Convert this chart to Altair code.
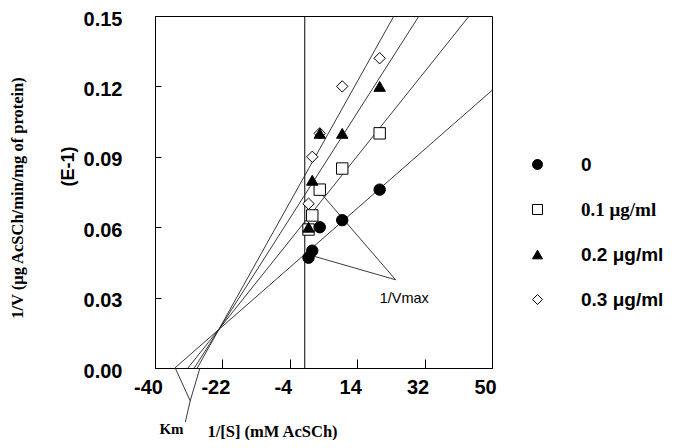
import altair as alt
import pandas as pd

# ---------------- data ----------------
x_vals = [1, 2, 4, 10, 20]                      # 1/[S]
series = ["0", "0.1 μg/ml", "0.2 μg/ml", "0.3 μg/ml"]
y_0 = [0.047, 0.050, 0.060, 0.063, 0.076]
y_01 = [0.059, 0.065, 0.076, 0.085, 0.100]
y_02 = [0.060, 0.080, 0.100, 0.100, 0.120]
y_03 = [0.070, 0.090, 0.100, 0.120, 0.132]

shapes = ["circle", "square", "triangle-up", "diamond"]
fills = ["black", "white", "black", "white"]
strokes = ["black", "black", "black", "black"]
draw_order = [3, 0, 2, 1]

# fitted Lineweaver-Burk lines (start at x-intercept, end at plot edge)
line_x_start = [-34.7, -31.2, -29.5, -28.7]
line_y_start = [0.0, 0.0, 0.0, 0.0]
line_x_end = [50.0, 43.9, 30.5, 23.8]
line_y_end = [0.1183, 0.15, 0.15, 0.15]

# annotation leader lines (Km and 1/Vmax)
ann_x = [-34.6, -28.0, -30.6, 4.47, 2.3]
ann_y = [0.0, 0.0, -0.014, 0.0742, 0.0477]
ann_x2 = [-30.6, -30.6, -31.9, 24.25, 24.25]
ann_y2 = [-0.014, -0.014, -0.023, 0.0376, 0.0376]

note_text = ["1/Vmax", "Km"]
note_x = [20.0, -35.6]
note_y = [0.0295, -0.026]

x_ticks = [-40, -22, -4, 14, 32, 50]
y_ticks = [0.0, 0.03, 0.06, 0.09, 0.12, 0.15]

# ---------------- tables ----------------
rows = []
for s, ys_, o in zip(series, [y_0, y_01, y_02, y_03], draw_order):
    for xv, yv in zip(x_vals, ys_):
        rows.append({"x": xv, "y": yv, "series": s, "ord": o})
pts = pd.DataFrame(rows).sort_values("ord")

lines = pd.DataFrame({"x": line_x_start, "y": line_y_start,
                      "x2": line_x_end, "y2": line_y_end, "series": series})
ann = pd.DataFrame({"x": ann_x, "y": ann_y, "x2": ann_x2, "y2": ann_y2})
notes = pd.DataFrame({"x": note_x, "y": note_y, "t": note_text})
zero_line = pd.DataFrame({"x": [0.0]})
ytitle = pd.DataFrame({"t": ["1/V (μg AcSCh/min/mg of protein)"]})

SANS = "Liberation Sans"
SERIF = "Liberation Serif"

xs = alt.Scale(domain=[-40, 50], nice=False, zero=False)
ysc = alt.Scale(domain=[0, 0.15], nice=False, zero=False)

x_axis = alt.Axis(values=x_ticks, labelExpr="datum.value + ''",
                  labelFont=SANS, labelFontSize=20, labelFontWeight="bold",
                  labelColor="black", labelOffset=-7, labelPadding=18,
                  labelFlush=False, labelOverlap=False,
                  tickSize={"expr": "-9"}, tickColor="black", domainColor="black",
                  grid=False, title="1/[S] (mM AcSCh)", titleFont=SERIF,
                  titleFontSize=16.5, titleFontWeight="bold", titleColor="black",
                  titleX=117, titleY=63, titleAlign="center", titleBaseline="middle")
y_axis = alt.Axis(values=y_ticks, format=".2f",
                  labelFont=SANS, labelFontSize=20, labelFontWeight="bold",
                  labelColor="black", labelOffset=3, labelPadding=39,
                  labelFlush=False, labelOverlap=False,
                  tickSize={"expr": "-6"}, tickColor="black", domainColor="black",
                  grid=False, title="(E-1)", titleFont=SANS, titleFontSize=18,
                  titleFontWeight="bold", titleColor="black", titleAngle=270,
                  titleX=-87, titleY=150, titleAlign="center", titleBaseline="middle")

X = alt.X("x:Q", scale=xs, axis=x_axis)
Y = alt.Y("y:Q", scale=ysc, axis=y_axis)

vline = alt.Chart(zero_line).mark_rule(color="black", strokeWidth=1).encode(x=X)

fit = alt.Chart(lines).mark_rule(color="#222222", strokeWidth=0.9).encode(
    x=X, y=Y, x2="x2:Q", y2="y2:Q")

leaders = alt.Chart(ann).mark_rule(color="#222222", strokeWidth=0.9).encode(
    x=X, y=Y, x2="x2:Q", y2="y2:Q")

points = alt.Chart(pts).mark_point(size=130, strokeWidth=1, opacity=1).encode(
    x=X, y=Y,
    shape=alt.Shape("series:N", scale=alt.Scale(domain=series, range=shapes), title=None),
    fill=alt.Fill("series:N", scale=alt.Scale(domain=series, range=fills), title=None),
    stroke=alt.Stroke("series:N", scale=alt.Scale(domain=series, range=strokes), title=None),
    order=alt.Order("ord:Q"),
)

note_1 = alt.Chart(notes[notes.t == "1/Vmax"]).mark_text(
    font=SANS, fontSize=14.5, align="left", baseline="middle", color="black").encode(
    x=X, y=Y, text="t:N")
note_2 = alt.Chart(notes[notes.t == "Km"]).mark_text(
    font=SERIF, fontSize=15, fontWeight="bold", align="center", baseline="middle",
    color="black").encode(x=X, y=Y, text="t:N")

ylong = alt.Chart(ytitle).mark_text(
    font=SERIF, fontSize=16.5, fontWeight="bold", angle=270, align="center",
    baseline="middle", color="black").encode(
    x=alt.value(-137), y=alt.value(182), text="t:N")

chart = alt.layer(vline, fit, leaders, points, note_1, note_2, ylong).properties(
    width=337, height=352,
    autosize=alt.AutoSizeParams(type="none"),
    padding={"left": 147, "top": 8, "right": 176, "bottom": 72},
).configure_view(stroke="black", strokeWidth=1).configure_legend(
    orient="none", legendX=373, legendY=139, padding=0,
    symbolSize=100, symbolStrokeColor="black", symbolStrokeWidth=1,
    symbolOpacity=1,
    labelFont={"expr": "datum.label == '0.1 μg/ml' ? 'Liberation Serif' : 'Liberation Sans'"},
    labelFontSize=19, labelFontWeight="bold", labelColor="black",
    labelOffset=34, rowPadding=25, labelLimit=300,
)

chart.save("out.html", embed_options={"renderer": "svg", "actions": False})
